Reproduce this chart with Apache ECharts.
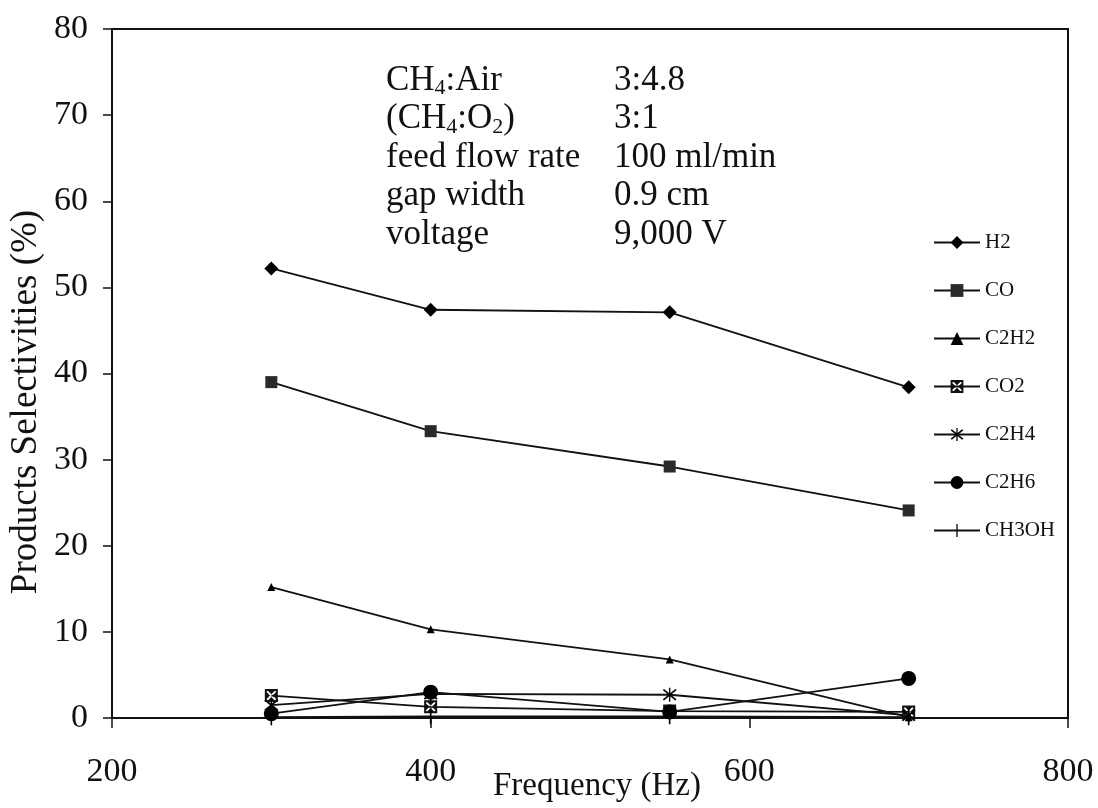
<!DOCTYPE html>
<html>
<head>
<meta charset="utf-8">
<script src="https://cdn.jsdelivr.net/npm/echarts@6/dist/echarts.min.js"></script>
<style>
html,body{margin:0;padding:0;background:#fff;}
#chart{width:1098px;height:808px;}
</style>
</head>
<body>
<div id="chart"></div>
<script>
const frequency = [300, 400, 550, 700];
const h2    = [52.2, 47.4, 47.1, 38.4];
const co    = [39.0, 33.3, 29.2, 24.1];
const c2h2  = [15.2, 10.3, 6.8, 0.1];
const co2   = [2.6, 1.3, 0.8, 0.7];
const c2h4  = [1.5, 2.8, 2.7, 0.3];
const c2h6  = [0.5, 3.0, 0.7, 4.6];
const ch3oh = [0.1, 0.2, 0.2, 0.1];
const seriesNames = ['H2', 'CO', 'C2H2', 'CO2', 'C2H4', 'C2H6', 'CH3OH'];
const conditionLabels = ['CH4:Air', '(CH4:O2)', 'feed flow rate', 'gap width', 'voltage'];
const conditionValues = ['3:4.8', '3:1', '100 ml/min', '0.9 cm', '9,000 V'];

const FONT = '"Liberation Serif", "Times New Roman", serif';
const pts = arr => frequency.map((f, i) => [f, arr[i]]);

const SYM_CO2 = 'path://M0,0 L20,0 L20,20 L0,20 Z M3,3 L3,17 L17,17 L17,3 Z M5,3 L15,3 L10,8 Z M17,5 L17,15 L12,10 Z M15,17 L5,17 L10,12 Z M3,15 L3,5 L8,10 Z';
const SYM_STAR = 'path://M11,0 L13,0 L13,24 L11,24 Z M4,2 L22,20 L20,22 L2,4 Z M20,2 L22,4 L4,22 L2,20 Z';
const SYM_BAR = 'path://M9,0 L11,0 L11,20 L9,20 Z M0,10 L20,10 L20,10.05 L0,10.05 Z';

const styles = [
  {symbol: 'diamond', size: 14, color: '#000'},
  {symbol: 'rect', size: 12, color: '#2a2a2a'},
  {symbol: 'triangle', size: 8, color: '#000'},
  {symbol: SYM_CO2, size: 13, color: '#111'},
  {symbol: SYM_STAR, size: 14, color: '#000'},
  {symbol: 'circle', size: 15, color: '#000'},
  {symbol: SYM_BAR, size: 16, color: '#000'}
];
const allData = [h2, co, c2h2, co2, c2h4, c2h6, ch3oh];

// rich text with subscript digits after CH / O
function toRich(s) {
  const parts = s.split(/(CH4|O2)/);
  let out = '';
  parts.forEach(p => {
    if (!p) return;
    if (p === 'CH4') out += '{a|CH}{s|4}';
    else if (p === 'O2') out += '{a|O}{s|2}';
    else out += '{a|' + p + '}';
  });
  return out;
}

const chart = echarts.init(document.getElementById('chart'));
const graphics = [];
const rowTop = [63, 101.5, 140, 178.5, 217];
conditionLabels.forEach((lab, i) => {
  graphics.push({
    type: 'text', left: 386, top: rowTop[i],
    style: {
      text: toRich(lab),
      rich: {
        a: {fontFamily: FONT, fontSize: 35, lineHeight: 38, fill: '#111'},
        s: {fontFamily: FONT, fontSize: 22, lineHeight: 15, verticalAlign: 'bottom', fill: '#111'}
      }
    }
  });
  graphics.push({
    type: 'text', left: 614, top: rowTop[i],
    style: {
      text: '{a|' + conditionValues[i] + '}',
      rich: {a: {fontFamily: FONT, fontSize: 35, lineHeight: 38, fill: '#111'}}
    }
  });
});
graphics.push({
  type: 'text', x: 26, y: 402, rotation: Math.PI / 2,
  style: {text: 'Products Selectivities (%)', font: '37px ' + FONT, fill: '#111', align: 'center', verticalAlign: 'middle'}
});

chart.setOption({
  backgroundColor: '#fff',
  animation: false,
  grid: {left: 112, right: 30, top: 29, bottom: 90, containLabel: false, outerBoundsMode: 'none',
         show: true, borderColor: '#111', borderWidth: 2, backgroundColor: 'transparent'},
  xAxis: {
    type: 'value', min: 200, max: 800, interval: 200,
    name: 'Frequency (Hz)', nameLocation: 'middle', nameGap: 52, nameMoveOverlap: false,
    nameTextStyle: {fontFamily: FONT, fontSize: 33, color: '#111', padding: [0, 0, 0, 14]},
    axisLine: {show: true, onZero: false, lineStyle: {color: '#111', width: 2}},
    axisTick: {show: true, inside: false, length: 10, lineStyle: {color: '#111', width: 1.5}},
    axisLabel: {fontFamily: FONT, fontSize: 34, color: '#111', margin: 37},
    splitLine: {show: false}
  },
  yAxis: {
    type: 'value', min: 0, max: 80, interval: 10,
    axisLine: {show: true, lineStyle: {color: '#111', width: 2}},
    axisTick: {show: true, inside: false, length: 9, lineStyle: {color: '#111', width: 1.5}},
    axisLabel: {fontFamily: FONT, fontSize: 34, color: '#111', margin: 24},
    splitLine: {show: false}
  },
  legend: {
    orient: 'vertical', left: 928, top: 227, itemGap: 27,
    itemWidth: 46, itemHeight: 16,
    textStyle: {fontFamily: FONT, fontSize: 21, lineHeight: 16, color: '#111'},
    data: seriesNames
  },
  graphic: graphics,
  series: seriesNames.map((name, i) => ({
    name: name, type: 'line', data: pts(allData[i]),
    symbol: styles[i].symbol, symbolSize: styles[i].size, showAllSymbol: true,
    lineStyle: {color: '#111', width: 1.8},
    itemStyle: {color: styles[i].color, borderWidth: 0},
    z: 3
  }))
});
</script>
</body>
</html>
